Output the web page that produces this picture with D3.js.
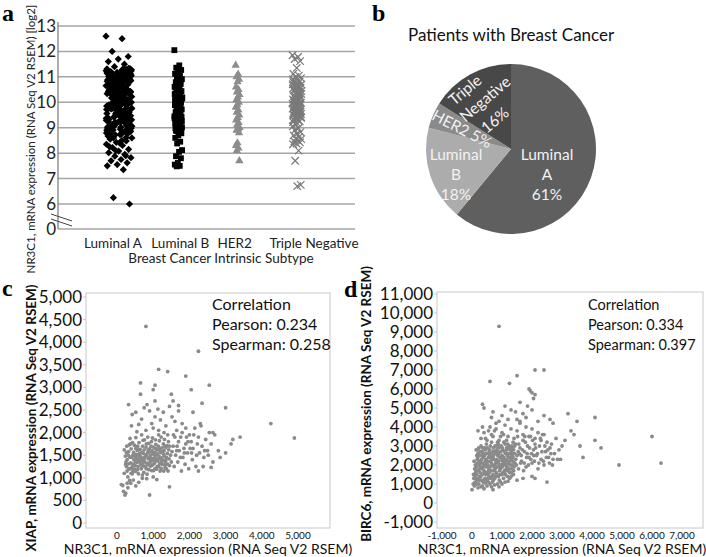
<!DOCTYPE html>
<html>
<head>
<meta charset="utf-8">
<script src="https://cdn.jsdelivr.net/npm/d3@7"></script>
<style>
  body { margin: 0; background: #fff; }
  svg { display: block; font-family: Lato, "Open Sans", sans-serif; }
</style>
</head>
<body>
<div id="chart"></div>
<script>
// ---- panel a: NR3C1 log2 expression per subtype ----
const subtypes = ["Luminal A", "Luminal B", "HER2", "Triple Negative"];
const lumA = [12.6,12.5,12.0,11.8,11.7,11.6,11.5,11.4,
  10.42,9.87,11.21,8.93,10.05,9.56,10.78,11.02,9.12,10.33,8.71,9.94,10.61,11.28,9.38,10.17,8.84,9.73,10.89,10.26,9.05,11.14,
  9.61,10.48,8.62,10.95,9.29,10.71,9.82,11.33,10.12,8.98,9.47,10.56,11.07,9.91,10.38,8.77,9.68,10.83,10.21,9.16,11.19,9.53,
  10.64,8.89,10.01,9.77,11.26,10.45,9.34,10.92,8.67,9.99,10.29,11.11,9.44,10.74,9.08,10.53,9.85,11.3,10.16,8.81,9.62,10.87,
  10.36,9.21,11.04,9.58,10.67,8.95,10.09,9.71,11.17,10.49,9.27,10.98,8.74,9.93,10.31,11.24,9.49,10.79,9.14,10.58,9.89,11.08,
  10.23,8.86,9.66,10.91,10.4,9.19,11.15,9.52,10.7,8.92,10.03,9.79,11.22,10.44,9.31,10.85,8.69,9.96,10.27,11.12,9.41,10.76,
  9.1,10.51,9.83,11.29,10.14,8.79,9.64,10.88,10.35,9.24,11.01,9.57,10.66,8.97,10.07,9.74,11.18,10.47,9.36,10.94,8.6,9.98,
  10.3,11.09,9.46,10.72,9.06,10.55,9.88,11.25,10.19,8.83,9.69,10.82,10.39,9.22,11.05,9.6,10.62,8.9,10.11,9.76,11.2,10.46,
  9.33,10.97,8.72,10.0,10.28,11.16,9.43,10.77,9.03,10.59,9.9,11.32,10.13,10.52,9.65,10.24,9.37,10.68,9.81,10.1,9.5,10.86,
  10.15,9.45,10.85,9.02,10.63,9.78,11.18,10.34,9.25,10.92,8.88,9.67,10.5,11.06,9.54,10.22,8.76,9.97,10.7,10.04,9.39,11.27,
  9.84,10.41,8.94,10.81,9.13,10.57,9.72,11.13,10.26,9.51,10.96,8.65,9.93,10.37,11.23,9.3,10.74,9.63,10.08,8.99,10.46,9.8,
  11.01,10.31,9.18,10.87,9.57,10.65,8.82,10.18,9.7,11.1,10.43,9.28,10.99,9.47,10.6,9.09,10.53,9.92,11.31,10.2,8.91,9.6,
  10.79,10.38,9.35,11.03,9.75,10.69,9.0,10.11,9.86,11.19,10.48,9.42,10.9,8.73,
  8.55,8.48,8.42,8.35,8.3,8.22,8.15,8.08,8.02,7.95,7.88,7.82,7.75,7.7,7.62,7.55,7.5,7.35,6.25,6.0,8.4,8.25,7.9,8.1,8.6,8.5];
const lumB = [12.05,11.45,11.36,11.27,11.18,11.12,11.04,10.97,10.91,10.86,10.79,10.72,10.68,10.61,10.55,10.49,10.44,10.38,
  10.33,10.27,10.22,10.16,10.11,10.05,10.0,9.94,9.89,9.83,9.78,9.72,9.67,9.61,9.56,9.5,9.45,9.39,9.34,9.28,9.23,9.17,9.12,
  9.06,9.01,8.95,8.9,8.84,10.52,10.31,9.97,9.71,9.43,9.15,8.98,10.83,10.64,10.19,9.86,9.59,9.31,10.41,10.08,9.8,9.52,9.25,
  10.7,10.25,9.92,9.63,9.37,9.09,8.87,8.78,8.7,8.6,8.45,8.38,8.12,8.05,7.88,7.8,7.62,7.55,7.5,7.48,10.13,9.75,10.58,9.2,11.08];
const her2 = [11.45,11.1,11.0,10.9,10.8,10.6,10.5,10.4,10.3,10.2,10.1,10.0,9.9,9.8,9.7,9.6,9.5,9.4,9.3,9.2,9.1,9.0,
  8.95,8.9,8.8,8.4,8.3,8.2,8.1,7.7];
const tripleNeg = [11.85,11.78,11.7,11.62,11.35,11.12,11.05,11.0,10.95,10.9,10.86,10.81,10.76,10.71,10.66,10.61,10.57,
  10.52,10.47,10.42,10.38,10.33,10.29,10.24,10.2,10.15,10.11,10.06,10.02,9.97,9.93,9.88,9.84,9.79,9.75,9.7,9.66,9.61,9.57,
  9.52,9.48,9.43,9.39,9.34,9.3,9.25,9.21,10.54,10.36,10.18,9.99,9.81,9.63,9.45,10.74,10.44,10.09,9.9,9.68,9.5,9.32,10.27,
  9.86,9.54,10.62,10.0,9.77,9.12,9.05,8.98,8.9,8.83,8.76,8.7,8.64,8.58,8.55,8.5,8.46,8.42,8.38,8.35,8.1,7.7,6.75,6.7,
  10.05,9.6,10.4,9.95,10.2,9.7,10.55,9.35,10.8,9.85,10.12,9.42,10.65,9.58,10.3,9.75,10.9,9.28,10.48,9.9,10.0,9.5,10.35,
  9.8,10.7,9.65,10.22,9.45,10.58,9.22];
const aTicks = [0, 6, 7, 8, 9, 10, 11, 12, 13];

// ---- panel b: subtype shares ----
const pieNames = ["Luminal A", "Luminal B", "HER2", "Triple Negative"];
const pieShares = [61, 18, 5, 16];

// ---- panel c: NR3C1 vs XIAP ----
const xiapPairs = [
  [250,1350],[320,1580],[410,1220],[480,1720],[530,1450],[590,1090],[640,1630],[700,1310],[760,1840],[820,1510],
  [880,1180],[940,1700],[990,1390],[1050,1560],[1110,1250],[1170,1820],[1230,1440],[1290,1150],[1350,1670],[1400,1300],
  [280,1150],[350,1460],[430,1780],[500,1270],[560,1610],[620,1380],[680,1950],[740,1120],[800,1680],[860,1420],
  [920,1260],[980,1880],[1040,1330],[1100,1620],[1160,1480],[1220,1210],[1280,1750],[1340,1360],[1390,1540],[1450,1270],
  [200,1620],[300,1020],[380,1330],[460,1560],[520,1890],[580,1250],[650,1470],[710,1700],[770,1350],[830,1080],
  [890,1570],[950,1430],[1010,1160],[1070,1740],[1130,1370],[1190,1590],[1250,1300],[1310,1850],[1370,1450],[1430,1620],
  [230,1480],[340,1730],[420,1090],[470,1400],[550,1340],[610,1780],[670,1200],[730,1540],[790,1260],[850,1900],
  [910,1340],[970,1600],[1030,1440],[1090,1190],[1150,1950],[1210,1560],[1270,1390],[1330,1230],[1380,1710],[1480,1500],
  [260,1250],[360,1870],[440,1500],[510,1140],[570,1700],[630,1540],[690,1280],[750,1620],[810,1200],[870,1760],
  [930,1500],[1000,1300],[1060,1840],[1120,1530],[1180,1310],[1240,1660],[1300,1480],[1360,1200],[1420,1800],[1500,1350],
  [330,1310],[390,1640],[490,1190],[540,1520],[660,1420],[720,1830],[780,1470],[840,1320],[900,1640],[960,1160],
  [1020,1520],[1080,1390],[1140,1700],[1200,1420],[1260,1580],[1320,1290],[450,1300],[620,1480],[760,1250],[950,1800],
  [280,1400],[400,1450],[560,1420],[700,1380],[850,1560],[1000,1680],[1150,1250],[1300,1600],[1450,1700],[600,1620],
  [520,1650],[880,1450],[1060,1650],[1220,1900],[1400,1950],[700,1060],[440,1150],[360,1200],[260,1560],[200,1100],
  [240,1300],[310,1500],[370,1750],[430,1250],[490,1480],[570,1180],[630,1350],[690,1560],[750,1420],[810,1750],
  [870,1290],[930,1380],[990,1550],[1050,1200],[1110,1420],[1170,1640],[1230,1350],[1290,1520],[1350,1400],[1410,1150],
  [270,1700],[330,1200],[390,1100],[510,1360],[590,1510],[660,1290],[740,1440],[860,1620],[960,1270],[1080,1500],
  [1190,1150],[1320,1700],[1440,1420],[1520,1580],[1560,1950],[1660,1700],[1760,1900],[1860,1550],[1960,1800],[2060,1550],
  [180,700],[220,620],[240,660],[300,780],[380,880],[450,950],[520,820],[600,900],[700,990],[900,620],
  [1100,960],[1450,800],[350,940],[280,880],[160,830],[120,850],[820,980],[1000,1020],
  [320,2620],[420,2400],[520,2450],[600,2180],[680,2300],[750,2550],[830,2620],[900,2480],[960,2200],[1050,2350],
  [1130,2520],[1200,2280],[1280,2450],[1350,2150],[1450,2580],[1520,2350],[1600,2250],[1700,2480],[1800,2200],[1900,2100],
  [550,2020],[400,2150],[800,2050],[1000,2100],[1150,2050],[1300,2000],[1650,2050],[2100,2450],
  [1550,1700],[1600,1900],[1650,1600],[1700,1800],[1750,1450],[1800,2000],[1850,1650],[1900,1750],[1950,1550],[2000,1950],
  [2050,1800],[2100,1650],[2150,2100],[2200,1500],[2250,1900],[2300,2200],[2350,1700],[2400,1450],[2450,1850],[2500,1600],
  [2550,2000],[2600,1750],[2650,1350],[2700,1950],[1580,1250],[1680,1350],[1780,1150],[1880,1300],[1980,1200],[2080,1400],
  [2180,1250],[2280,1550],[2380,1250],[1620,1500],[1720,1600],[1820,1450],[1920,1900],[2020,1650],[2120,1950],[2220,1750],
  [2320,2150],[2420,1600],[2520,1500],[2600,1230],[2250,1150],
  [2800,1600],[2850,1450],[3000,1550],[3150,1750],[3200,1850],[3400,1900],[3000,2550],[4250,2200],[4900,1880],[2650,2000],
  [800,4350],[2250,3800],[1150,3400],[1400,3350],[1900,3250],[650,3100],[1050,3050],[2550,3050],[2050,2950],[1000,2950],
  [650,2850],[1500,2850],[1050,2700],[1550,2700],[2350,2650],[1700,2600]];
const cXTicks = [0, 1000, 2000, 3000, 4000, 5000];
const cYTicks = [0, 500, 1000, 1500, 2000, 2500, 3000, 3500, 4000, 4500, 5000];

// ---- panel d: NR3C1 vs BIRC6 ----
const birc6Pairs = [
  [100,1100],[150,1900],[200,2600],[250,1400],[300,3000],[350,2100],[400,1700],[450,2800],[500,1200],[550,2400],
  [600,1900],[650,3200],[700,1500],[750,2700],[800,2200],[850,1000],[900,2900],[950,1800],[1000,2500],[1050,1300],
  [1100,3100],[1150,2000],[1200,2600],[1250,1600],[1300,2300],[1350,2900],[1400,1900],
  [120,1600],[180,2300],[230,1000],[280,2700],[330,1800],[380,2400],[430,1300],[480,3100],[530,2000],[580,1600],
  [630,2600],[680,1100],[730,2300],[780,1800],[830,3000],[880,1400],[930,2400],[980,2000],[1030,2800],[1080,1700],
  [1130,2300],[1180,1400],[1230,3000],[1280,2000],[1330,2500],[1380,1500],
  [60,1300],[140,2800],[210,1700],[260,2200],[310,1200],[360,2600],[410,2000],[460,1500],[510,2900],[560,1800],
  [610,2200],[660,1400],[710,2900],[760,2000],[810,1600],[860,2500],[910,1200],[960,2700],[1010,1900],[1060,2400],
  [1110,1500],[1160,2800],[1210,2100],[1260,1300],[1310,2700],[1360,2200],[1420,2600],
  [80,900],[130,1300],[170,2100],[220,2900],[270,1600],[320,2300],[370,1100],[420,2500],[470,1900],[520,1500],
  [570,2700],[620,1300],[670,2000],[720,2500],[770,1400],[820,2800],[870,2100],[920,1700],[970,3000],[1020,2200],
  [1070,1600],[1120,2600],[1170,1900],[1220,2400],[1270,2800],[1320,1800],[1370,2400],
  [90,1800],[160,1500],[190,2400],[240,2000],[290,1900],[340,1500],[390,2900],[440,2200],[490,1600],[540,2600],
  [590,2500],[640,1700],[690,2400],[740,1700],[790,2600],[840,1900],[890,2200],[940,1500],[990,2300],[1040,2000],
  [1090,2700],[1140,1800],[1190,2200],[1240,1800],[1290,2600],[1340,2000],[1390,2800],
  [50,1500],[110,2000],[170,1200],[230,2500],[290,1400],[350,2700],[410,1600],[470,2300],[530,1300],[590,2800],
  [650,2100],[710,1200],[770,3000],[830,1500],[890,2600],[950,1100],[1010,2900],[1070,2100],[1130,1700],[1190,3100],
  [1250,2200],[1310,1600],[1370,3200],[1430,2100],[70,2200],[130,1700],[190,2800],[250,1800],[310,2500],[370,1900],
  [430,2900],[490,2100],[550,1700],[610,3000],[670,2300],[730,1900],[790,2100],[850,2700],[910,1900],[970,2400],
  [1030,1600],[1090,2200],[1150,2900],[1210,1700],[1270,2400],[1330,3000],[1390,1700],[40,1000],[100,1400],[160,2500],
  [220,1300],[280,2100],[340,2900],[400,1200],[460,2600],[520,2200],[580,1400],[640,2400],[700,2700],[760,1300],
  [820,2300],[880,3100],[940,2000],[1000,1500],[1060,3200],[1120,2000],[1180,2500],[1240,2900],[1300,1400],[1360,2600],
  [1420,3000],[1460,2300],[1540,2700],[1560,3100],[1640,2500],[1740,2100],[1760,3500],[1840,2600],[1960,2300],[2060,2500],
  [0,700],[200,800],[300,850],[400,750],[500,900],[700,700],[600,1000],[150,1000],[250,1200],[350,900],
  [450,1050],[550,1100],[650,850],[750,950],[900,850],[1100,1100],[1200,1150],[1000,1000],[2000,1400],[1500,1200],[1700,1300],
  [200,3800],[300,3400],[400,3700],[500,3300],[600,4000],[700,3500],[800,3900],[900,3300],[1000,3700],[1100,4100],
  [1200,3500],[1300,3900],[1400,3400],[1500,3800],[1600,4200],[1700,3600],[1800,4000],[1900,3500],[2000,3900],[2100,3400],
  [2200,3700],[2300,3300],[2400,3600],[1150,3300],[1050,3600],[950,3500],[850,3200],[750,3800],[650,3600],[550,3800],
  [450,3400],[350,4000],
  [350,5200],[400,5000],[700,4800],[650,4500],[900,4300],[1000,4600],[1300,4900],[1450,4800],[1500,4400],[1700,4700],
  [1800,4500],[1850,5100],[2000,4900],[2200,4300],[2400,4600],[2600,4400],[1200,4400],[800,4200],[1600,4300],[2700,4200],
  [1450,3100],[1500,2500],[1550,1800],[1600,2900],[1650,2200],[1700,3300],[1750,2700],[1800,1900],[1850,3000],[1900,2400],
  [1950,3500],[2000,2100],[2050,2800],[2100,3100],[2150,2500],[2200,1800],[2250,3000],[2300,2300],[2350,3600],[2400,2000],
  [2450,2700],[2500,3200],[2550,2400],[2600,2900],[2650,3100],[2700,2300],[2750,2600],[2800,3400],[2900,2800],[3000,3000],
  [2950,2300],[3100,3300],
  [1480,2000],[1520,3500],[1580,2600],[1620,2100],[1680,2800],[1720,1700],[1780,3200],[1820,2400],[1880,2000],[1920,2900],
  [1980,2600],[2020,3300],[2080,2200],[2120,2900],[2180,2600],[2230,2100],[2280,3400],[2330,2700],[2380,2200],[2430,3000],
  [2480,2400],[2530,2800],[2580,2100],[2630,2600],[2680,2000],[2850,2300],
  [3200,4700],[4100,4500],[3500,4300],[6000,3500],[4100,3300],[4300,2900],[3600,3000],[3700,2400],[4900,2000],[6300,2100],
  [3300,3800],[3400,3600],[2100,1300],[2500,1100],
  [900,9300],[2100,7000],[2400,7000],[1500,6700],[600,6400],[1250,6300],[1900,6000],[1950,5900],[2000,5800],[2100,5700],
  [2050,5500],[1600,5300],[1100,5100]];
const dXTicks = [-1000, 0, 1000, 2000, 3000, 4000, 5000, 6000, 7000];
const dYTicks = [-1000, 0, 1000, 2000, 3000, 4000, 5000, 6000, 7000, 8000, 9000, 10000, 11000];

const fmt = d3.format(",");
const fmtTick = d => fmt(d).replace("\u2212", "-");

const svg = d3.select("#chart").append("svg")
  .attr("width", 706)
  .attr("height", 557);

svg.append("rect").attr("width", 706).attr("height", 557).attr("fill", "#fff");

// panel letters
const letters = [["a", 2, 21], ["b", 372, 21], ["c", 2, 296], ["d", 344, 297]];
svg.selectAll("text.letter").data(letters).join("text")
  .attr("class", "letter")
  .attr("x", d => d[1]).attr("y", d => d[2])
  .style("font-family", "'Liberation Serif', 'DejaVu Serif', serif")
  .style("font-weight", "bold")
  .style("font-size", "24px")
  .text(d => d[0]);

// ================= panel a =================
const gA = svg.append("g");
const yA = d3.scaleLinear().domain([0, 6, 13]).range([229, 204, 26]);
const xA = d3.scalePoint().domain(subtypes).range([119, 297]);

gA.selectAll("line.grid").data(aTicks).join("line")
  .attr("x1", 58).attr("x2", 355)
  .attr("y1", d => yA(d)).attr("y2", d => yA(d))
  .attr("stroke", "#a6a6a6").attr("stroke-width", 1.5);

gA.append("line")
  .attr("x1", 58).attr("x2", 58).attr("y1", yA(13) - 4).attr("y2", yA(0))
  .attr("stroke", "#777").attr("stroke-width", 1.2);

gA.selectAll("text.tick").data(aTicks).join("text")
  .attr("x", 56).attr("y", d => yA(d) + 6)
  .attr("text-anchor", "end")
  .style("font-size", "17px").attr("fill", "#222")
  .text(d => d);

// axis break marks
gA.selectAll("line.brk").data([0, 5]).join("line")
  .attr("x1", 51).attr("y1", d => 214 + d)
  .attr("x2", 72).attr("y2", d => 221 + d)
  .attr("stroke", "#444").attr("stroke-width", 1);

gA.append("text")
  .attr("transform", "translate(35,139) rotate(-90)")
  .attr("text-anchor", "middle")
  .style("font-size", "11.5px").attr("fill", "#222")
  .text("NR3C1, mRNA expression (RNA Seq V2 RSEM) [log2]");

const labelDx = [-6, 2, -3, 17];
gA.selectAll("text.cat").data(subtypes).join("text")
  .attr("x", (d, i) => xA(d) + labelDx[i]).attr("y", 248)
  .attr("text-anchor", "middle")
  .style("font-size", "13.5px").attr("fill", "#222")
  .text(d => d);
gA.append("text")
  .attr("x", 221).attr("y", 263)
  .attr("text-anchor", "middle")
  .style("font-size", "13.5px").attr("fill", "#222")
  .text("Breast Cancer  Intrinsic Subtype");

const jit = i => ((i * 0.6180339887) % 1) * 2 - 1;
const groups = [
  { name: "Luminal A", values: lumA, hw: 13, sym: d3.symbolSquare, size: 26, rot: 45, fill: "#000", stroke: "none" },
  { name: "Luminal B", values: lumB, hw: 4, sym: d3.symbolSquare, size: 34, rot: 0, fill: "#000", stroke: "none" },
  { name: "HER2", values: her2, hw: 2, sym: d3.symbolTriangle, size: 30, rot: 0, fill: "#8c8c8c", stroke: "none" },
  { name: "Triple Negative", values: tripleNeg, hw: 4.5, sym: d3.symbolX, size: 38, rot: 0, fill: "none", stroke: "#7a7a7a" }
];
groups.forEach(gr => {
  gA.append("g").selectAll("path").data(gr.values).join("path")
    .attr("transform", (d, i) => `translate(${xA(gr.name) + jit(i) * gr.hw},${yA(d)}) rotate(${gr.rot})`)
    .attr("d", d3.symbol(gr.sym, gr.size))
    .attr("fill", gr.fill)
    .attr("stroke", gr.stroke)
    .attr("stroke-width", 1.2);
});

// ================= panel b =================
const gB = svg.append("g");
gB.append("text")
  .attr("x", 408).attr("y", 41)
  .style("font-size", "17px").attr("fill", "#111")
  .text("Patients with Breast Cancer");

const pieColors = ["#5f5f5f", "#acacac", "#8a8a8a", "#484848"];
const R = 85;
const pieG = gB.append("g").attr("transform", "translate(511,149)");
const arcs = d3.pie().sort(null)(pieShares);
pieG.selectAll("path").data(arcs).join("path")
  .attr("d", d3.arc().innerRadius(0).outerRadius(R))
  .attr("fill", (d, i) => pieColors[i]);

// slice labels (offsets relative to pie centre)
const pieText = [
  { lines: ["Luminal", "A", pieShares[0] + "%"], x: 36, y: 11 },
  { lines: ["Luminal", "B", pieShares[1] + "%"], x: -55, y: 11 }
];
pieText.forEach(t => {
  pieG.append("g").selectAll("text").data(t.lines).join("text")
    .attr("x", t.x).attr("y", (d, i) => t.y + i * 20)
    .attr("text-anchor", "middle")
    .style("font-size", "15.5px").attr("fill", "#f2f2f2")
    .text(d => d);
});
const rotText = [
  { s: "HER2 " + pieShares[2] + "%", x: -49, y: -20, rot: 27 },
  { s: "Triple", x: -46, y: -59, rot: -40 },
  { s: "Negative", x: -26, y: -50, rot: -40 },
  { s: pieShares[3] + "%", x: -16, y: -29, rot: -40 }
];
pieG.selectAll("text.rot").data(rotText).join("text")
  .attr("transform", d => `translate(${d.x},${d.y}) rotate(${d.rot})`)
  .attr("text-anchor", "middle")
  .attr("dy", "0.35em")
  .style("font-size", "15.5px").attr("fill", "#f2f2f2")
  .text(d => d.s);

// ================= scatter helper =================
function scatter(cfg) {
  const g = svg.append("g");
  g.append("rect")
    .attr("x", cfg.box[0]).attr("y", cfg.box[1])
    .attr("width", cfg.box[2] - cfg.box[0]).attr("height", cfg.box[3] - cfg.box[1])
    .attr("fill", "none").attr("stroke", "#c8c8c8").attr("stroke-width", 1);

  g.selectAll("line.yt").data(cfg.yTicks).join("line")
    .attr("x1", cfg.box[0] - 3).attr("x2", cfg.box[0])
    .attr("y1", d => cfg.y(d)).attr("y2", d => cfg.y(d))
    .attr("stroke", "#c8c8c8");
  g.selectAll("text.yt").data(cfg.yTicks).join("text")
    .attr("x", cfg.box[0] - 4).attr("y", d => cfg.y(d) + 6)
    .attr("text-anchor", "end")
    .style("font-size", "17px").attr("fill", "#111")
    .text(fmtTick);
  g.selectAll("text.xt").data(cfg.xTicks).join("text")
    .attr("x", d => cfg.x(d)).attr("y", 539)
    .attr("text-anchor", "middle")
    .style("font-size", "10px").attr("fill", "#111")
    .text(fmtTick);

  g.selectAll("circle").data(cfg.pts).join("circle")
    .attr("cx", d => cfg.x(d[0])).attr("cy", d => cfg.y(d[1]))
    .attr("r", 1.9)
    .attr("fill", "#8a8a8a");

  g.append("text")
    .attr("transform", `translate(${cfg.yTitleX},${cfg.yTitleY}) rotate(-90)`)
    .attr("text-anchor", "middle")
    .style("font-size", "13.5px").style("font-weight", "bold").attr("fill", "#111")
    .text(cfg.yTitle);
  g.append("text")
    .attr("x", cfg.xTitleX).attr("y", 554)
    .attr("text-anchor", "middle")
    .style("font-size", "14px").attr("fill", "#111")
    .text("NR3C1, mRNA expression (RNA Seq V2 RSEM)");

  g.selectAll("text.note").data(cfg.note).join("text")
    .attr("x", cfg.noteX).attr("y", (d, i) => 310 + i * 20)
    .style("font-size", cfg.noteSize).attr("fill", "#111")
    .text(d => d);
}

scatter({
  box: [86, 293, 330, 528],
  x: d3.scaleLinear().domain([0, 5000]).range([117, 298]),
  y: d3.scaleLinear().domain([0, 5000]).range([523, 297]),
  xTicks: cXTicks, yTicks: cYTicks, pts: xiapPairs,
  yTitle: "XIAP, mRNA expression (RNA Seq V2 RSEM)", yTitleX: 36, yTitleY: 418,
  xTitleX: 208,
  note: ["Correlation", "Pearson: 0.234", "Spearman: 0.258"], noteX: 212, noteSize: "16px"
});

scatter({
  box: [437, 292, 703, 528],
  x: d3.scaleLinear().domain([0, 7000]).range([472, 682]),
  y: d3.scaleLinear().domain([-1000, 11000]).range([522, 294]),
  xTicks: dXTicks, yTicks: dYTicks, pts: birc6Pairs,
  yTitle: "BIRC6, mRNA expression (RNA Seq V2 RSEM)", yTitleX: 371, yTitleY: 404,
  xTitleX: 562,
  note: ["Correlation", "Pearson: 0.334", "Spearman: 0.397"], noteX: 588, noteSize: "14.5px"
});
</script>
</body>
</html>
